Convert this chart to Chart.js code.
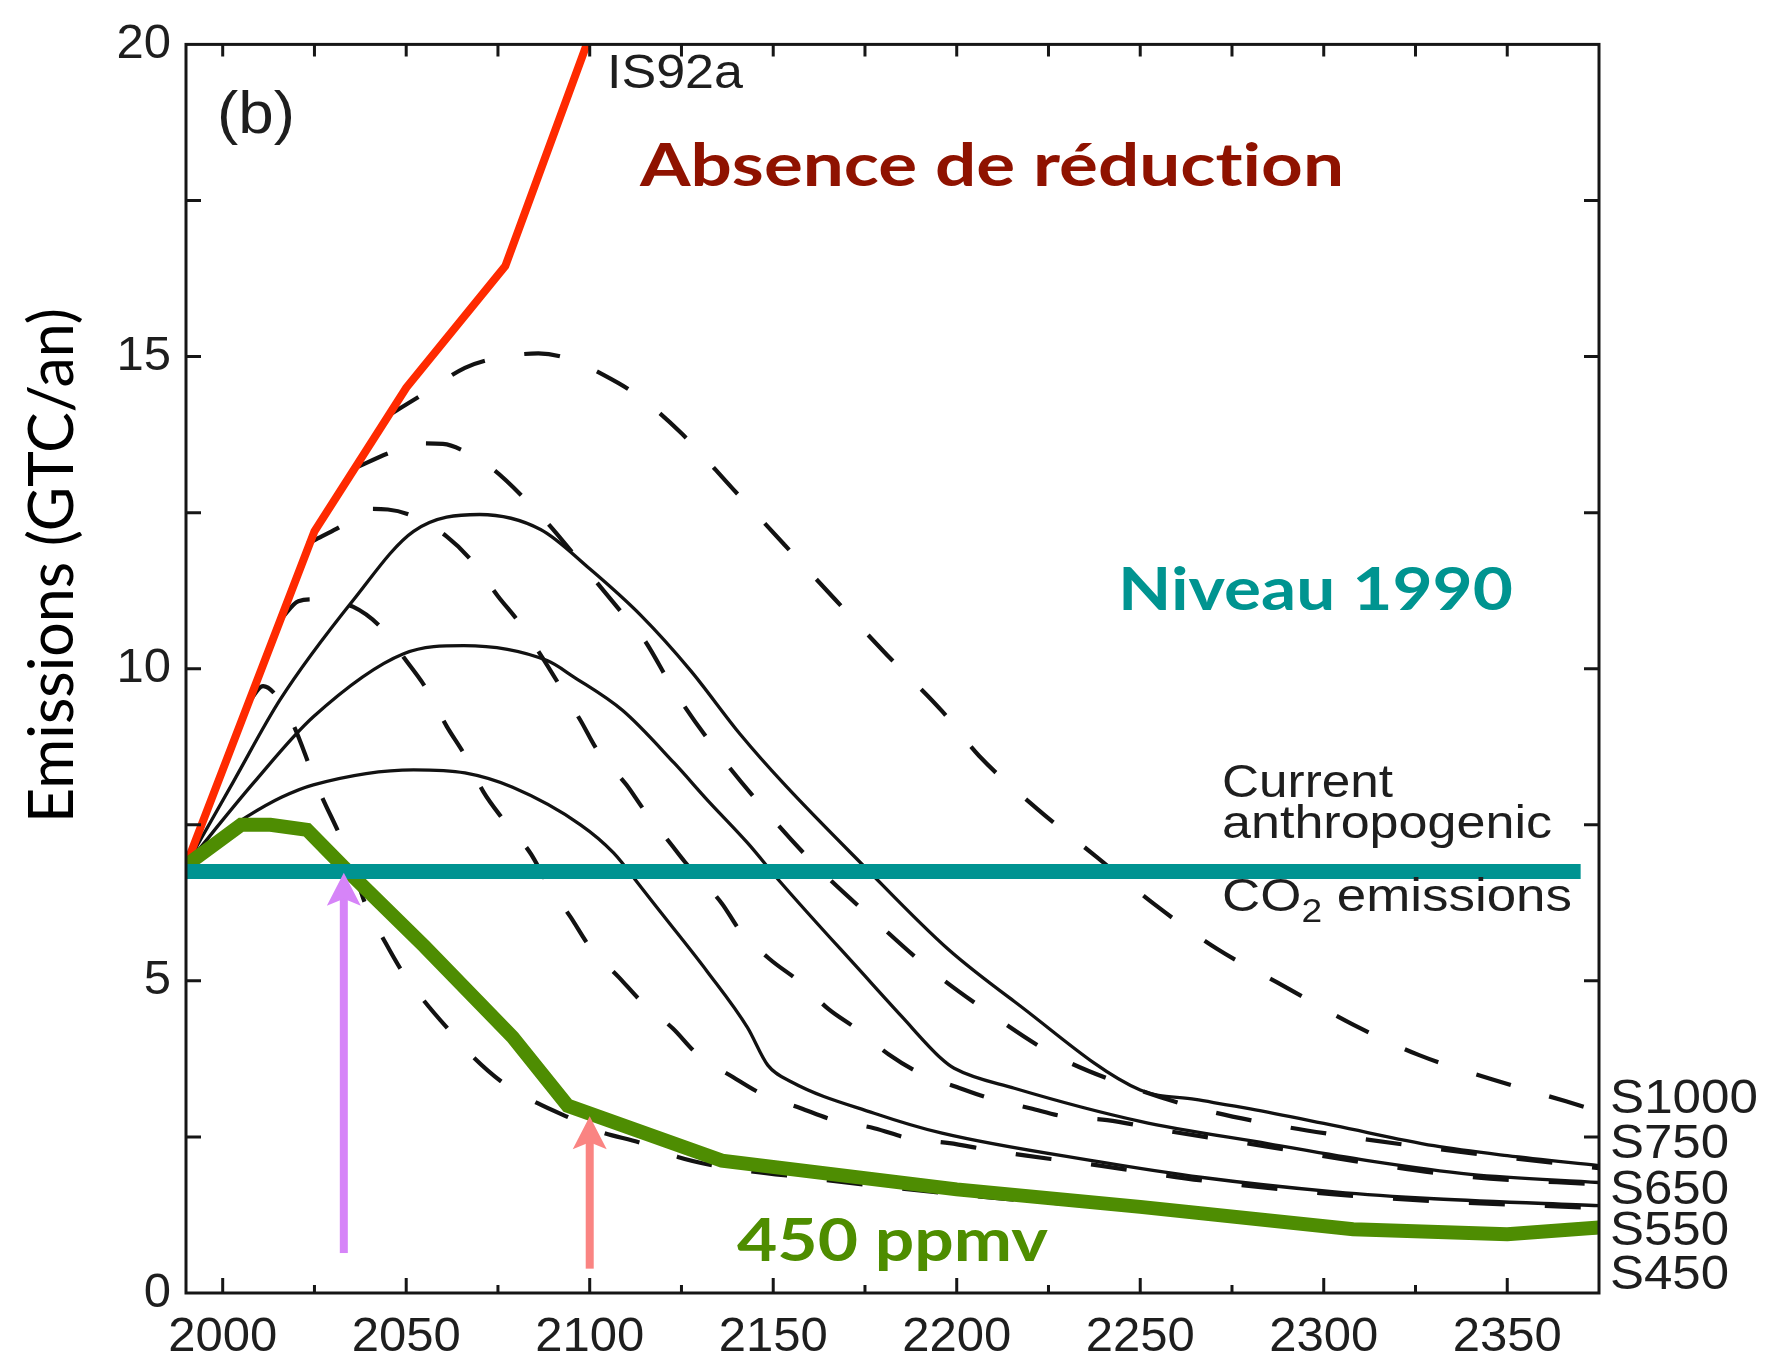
<!DOCTYPE html>
<html>
<head>
<meta charset="utf-8">
<script src="https://cdn.jsdelivr.net/npm/chart.js@4.4.1/dist/chart.umd.min.js"></script>
<style>
    html, body { margin: 0; padding: 0; background: #fff; }
    #wrap { width: 1768px; height: 1359px; }
</style>
</head>
<body>
<div id="wrap"><canvas id="emissionsChart" width="1768" height="1359"></canvas></div>
<script>
// Emissions de CO2 (GTC/an) - profils S / WRE, IS92a, niveau 1990

// ============================ axes ============================
const yearMin = 1990;
const yearMax = 2375;
const xTickLabels = [2000, 2050, 2100, 2150, 2200, 2250, 2300, 2350];
const yTickLabels = [0, 5, 10, 15, 20];
const profileLabels = ['S1000', 'S750', 'S650', 'S550', 'S450'];

// ============================ séries ============================
// IS92a (rouge)
const is92aYears = [1990, 2025, 2050, 2077, 2100];
const is92aValues = [6.85, 12.2, 14.5, 16.45, 20.13];

// niveau 1990 (turquoise)
const niveauYears = [1990, 2370];
const niveauValues = [6.75, 6.75];

// 450 ppmv (vert)
const ppmv450Years = [1990, 2005, 2013, 2023, 2033, 2055, 2079, 2094, 2136, 2200, 2250, 2308, 2350, 2375];
const ppmv450Values = [6.85, 7.5, 7.5, 7.42, 6.82, 5.55, 4.1, 3.0, 2.12, 1.66, 1.38, 1.02, 0.94, 1.05];

// courbes pleines
const s750Years = [1990, 2003, 2015.6, 2035.6, 2052, 2070, 2086.6, 2100, 2114, 2127.5, 2141, 2153, 2174, 2197.6, 2215.7, 2250, 2265, 2280, 2303, 2330, 2350, 2375];
const s750Values = [6.85, 8.2, 9.5, 11.1, 12.2, 12.47, 12.23, 11.6, 10.85, 9.97, 8.95, 8.15, 6.88, 5.51, 4.67, 3.25, 3.1, 2.95, 2.68, 2.36, 2.2, 2.04];

const s650Years = [1990, 2008.4, 2024.7, 2049.3, 2065.7, 2088.4, 2095.6, 2109, 2123, 2132, 2143, 2152, 2174.8, 2185, 2195.7, 2199.3, 2215.7, 2250, 2285, 2312, 2340, 2375];
const s650Values = [6.85, 8.17, 9.23, 10.24, 10.37, 10.13, 9.87, 9.33, 8.49, 7.9, 7.21, 6.58, 5.09, 4.43, 3.76, 3.6, 3.28, 2.75, 2.39, 2.12, 1.9, 1.77];

const s550Years = [1990, 2000.8, 2006.6, 2016, 2024.7, 2052, 2066, 2079, 2097.5, 2106.5, 2114, 2120, 2132, 2143, 2148.5, 2155, 2177.5, 2196, 2239, 2267, 2303, 2330, 2375];
const s550Values = [6.85, 7.4, 7.63, 7.94, 8.14, 8.38, 8.33, 8.1, 7.5, 7.05, 6.5, 6.05, 5.15, 4.25, 3.65, 3.38, 2.88, 2.56, 2.1, 1.85, 1.62, 1.51, 1.40];

// courbes en tirets
const wre1000Years = [2045, 2056, 2066, 2074, 2086, 2094, 2104, 2113, 2125, 2139, 2153, 2167, 2181, 2196, 2206, 2222, 2238, 2254, 2271, 2289, 2308, 2326, 2346, 2366, 2375];
const wre1000Values = [14.05, 14.45, 14.82, 14.97, 15.05, 14.97, 14.7, 14.38, 13.77, 12.88, 11.99, 11.1, 10.22, 9.32, 8.61, 7.75, 6.99, 6.22, 5.51, 4.92, 4.30, 3.81, 3.42, 3.07, 2.91];

const wre750Years = [2036, 2046, 2054, 2060, 2066, 2074, 2082, 2089, 2100, 2109, 2115, 2123, 2135, 2148, 2162, 2177, 2193, 2209, 2227, 2245, 2265, 2286, 2307, 2328, 2350, 2375];
const wre750Values = [13.21, 13.47, 13.61, 13.6, 13.48, 13.18, 12.74, 12.3, 11.52, 10.88, 10.45, 9.65, 8.65, 7.72, 6.82, 6.0, 5.17, 4.48, 3.8, 3.35, 2.97, 2.7, 2.5, 2.33, 2.17, 2.0];

const wre650Years = [2023, 2027, 2033, 2039, 2045, 2052, 2061, 2068, 2075, 2081, 2097.5, 2102, 2110, 2115, 2122, 2126, 2136, 2141, 2149, 2157.5, 2165, 2172.5, 2181.5, 2190, 2200, 2210, 2220, 2229, 2241, 2257, 2285, 2312, 2340, 2375];
const wre650Values = [12.0, 12.12, 12.31, 12.56, 12.55, 12.44, 12.12, 11.72, 11.16, 10.72, 9.17, 8.7, 8.14, 7.72, 7.2, 6.9, 6.24, 5.8, 5.35, 4.97, 4.55, 4.24, 3.82, 3.52, 3.3, 3.1, 2.96, 2.83, 2.77, 2.6, 2.34, 2.08, 1.86, 1.74];

const wre550Years = [2016, 2020.6, 2025, 2035.6, 2043.5, 2049.2, 2055.8, 2061, 2066, 2071, 2076.5, 2083.9, 2088.5, 2094.8, 2100.2, 2107.9, 2114.4, 2122.6, 2129.4, 2139, 2147.2, 2157.5, 2166.5, 2177.5, 2187.5, 2198, 2208, 2219, 2229, 2239, 2267, 2303, 2330, 2375];
const wre550Values = [10.8, 11.08, 11.11, 10.99, 10.64, 10.19, 9.65, 9.08, 8.61, 8.03, 7.58, 7.04, 6.56, 6.02, 5.53, 5.06, 4.65, 4.24, 3.82, 3.46, 3.18, 2.96, 2.77, 2.64, 2.47, 2.4, 2.3, 2.2, 2.12, 2.04, 1.8, 1.58, 1.47, 1.36];

const wre450Years = [2007, 2011, 2015.6, 2019.7, 2023.8, 2026.8, 2031.7, 2034.7, 2039.4, 2043.5, 2049, 2055, 2062.3, 2068.6, 2077, 2085.8, 2095.9, 2102, 2114.7, 2124, 2136, 2160, 2200, 2250, 2300, 2350, 2375];
const wre450Values = [9.45, 9.72, 9.49, 9.04, 8.42, 7.98, 7.36, 6.94, 6.15, 5.7, 5.14, 4.67, 4.17, 3.76, 3.34, 3.04, 2.77, 2.6, 2.39, 2.18, 2.02, 1.84, 1.58, 1.33, 1.07, 0.9, 0.98];

// flèches (année, bas, pointe)
const arrowYears = [2033, 2100];
const arrowFrom = [0.64, 0.39];
const arrowTo = [6.73, 2.83];
const arrowColors = ['#d684f8', '#fa8482'];

// ============================ helpers ============================
function toPoints(years, values) {
    return years.map((x, i) => ({ x: x, y: values[i] }));
}

function solidLine(label, years, values) {
    return {
        label: label,
        data: toPoints(years, values),
        borderColor: '#121212',
        borderWidth: 3.3,
        pointRadius: 0,
        fill: false,
        cubicInterpolationMode: 'monotone',
        order: 5
    };
}

function dashedLine(label, years, values) {
    const ds = solidLine(label, years, values);
    ds.borderWidth = 4.2;
    ds.borderDash = [36, 40];
    ds.order = 6;
    return ds;
}

// texte étiré pour coller à la largeur du document d'origine
function drawStretched(ctx, runs, x, baseline, width) {
    let total = 0;
    runs.forEach(r => {
        ctx.font = r.font;
        r.w = ctx.measureText(r.text).width;
        total += r.w;
    });
    ctx.save();
    ctx.translate(x, baseline);
    ctx.scale(width / total, 1);
    let cx = 0;
    runs.forEach(r => {
        ctx.font = r.font;
        ctx.fillText(r.text, cx, r.dy || 0);
        cx += r.w;
    });
    ctx.restore();
}

const helv = (size) => `${size}px "Liberation Sans", Arial, sans-serif`;
const gill = (size, weight) => `${weight} ${size}px Lato, "Open Sans", sans-serif`;

// ============================ plugin : cadre, graduations, textes ============================
const figurePlugin = {
    id: 'figure',
    afterDatasetsDraw(chart) {
        const { ctx, chartArea: a } = chart;
        const xs = chart.scales.x;
        const ys = chart.scales.y;
        ctx.save();

        // flèches
        arrowYears.forEach((yr, i) => {
            const px = xs.getPixelForValue(yr);
            const y0 = ys.getPixelForValue(arrowFrom[i]);
            const y1 = ys.getPixelForValue(arrowTo[i]);
            ctx.fillStyle = arrowColors[i];
            ctx.fillRect(px - 4, y1 + 24, 8, y0 - y1 - 24);
            ctx.beginPath();
            ctx.moveTo(px, y1);
            ctx.lineTo(px + 17, y1 + 33);
            ctx.lineTo(px, y1 + 26);
            ctx.lineTo(px - 17, y1 + 33);
            ctx.closePath();
            ctx.fill();
        });

        // cadre
        ctx.strokeStyle = '#161616';
        ctx.lineWidth = 3;
        ctx.strokeRect(a.left, a.top, a.right - a.left, a.bottom - a.top);

        // graduations vers l'intérieur
        ctx.beginPath();
        xs.ticks.forEach(t => {
            if (t.value <= xs.min || t.value >= xs.max) return;
            const px = xs.getPixelForValue(t.value);
            const len = t.value % 50 === 0 ? 15 : 8;
            ctx.moveTo(px, a.bottom);
            ctx.lineTo(px, a.bottom - len);
            ctx.moveTo(px, a.top);
            ctx.lineTo(px, a.top + 12);
        });
        ys.ticks.forEach(t => {
            if (t.value <= ys.min || t.value >= ys.max) return;
            const py = ys.getPixelForValue(t.value);
            ctx.moveTo(a.left, py);
            ctx.lineTo(a.left + 15, py);
            ctx.moveTo(a.right, py);
            ctx.lineTo(a.right - 15, py);
        });
        ctx.stroke();

        // textes du graphique d'origine
        ctx.textAlign = 'left';
        ctx.textBaseline = 'alphabetic';
        ctx.fillStyle = '#1e1e1e';
        drawStretched(ctx, [{ text: '(b)', font: helv(60) }], 217, 133, 78);
        drawStretched(ctx, [{ text: 'IS92a', font: helv(49) }], 607, 88, 136);
        drawStretched(ctx, [{ text: 'Current', font: helv(47) }], 1222, 797, 171);
        drawStretched(ctx, [{ text: 'anthropogenic', font: helv(47) }], 1222, 838, 330);
        drawStretched(ctx, [
            { text: 'CO', font: helv(47) },
            { text: '2', font: helv(33), dy: 11 },
            { text: ' emissions', font: helv(47) }
        ], 1222, 911, 350);

        const labelY = [1113, 1158, 1204, 1245, 1289];
        const labelW = [148, 119, 119, 119, 119];
        profileLabels.forEach((lab, i) => {
            drawStretched(ctx, [{ text: lab, font: helv(48) }], 1610, labelY[i], labelW[i]);
        });

        // annotations en couleur (ZWNJ pour éviter la ligature "ti")
        ctx.fillStyle = '#8f1200';
        drawStretched(ctx, [{ text: 'Absence de réduct\u200Cion', font: gill(60, 'bold') }], 640, 186, 704);
        ctx.fillStyle = '#009490';
        drawStretched(ctx, [{ text: 'Niveau 1990', font: gill(60, 'bold') }], 1118, 610, 395);
        ctx.fillStyle = '#4e8d00';
        drawStretched(ctx, [{ text: '450 ppmv', font: gill(60, 'bold') }], 737, 1261, 311);

        // titre de l'axe y
        ctx.fillStyle = '#000';
        ctx.save();
        ctx.translate(73, 823);
        ctx.rotate(-Math.PI / 2);
        drawStretched(ctx, [{ text: 'Emissions (GTC/an)', font: gill(61, 'normal') }], 0, 0, 515);
        ctx.restore();

        ctx.restore();
    }
};

// ============================ graphique ============================
const datasets = [
    {
        label: 'Niveau 1990',
        data: toPoints(niveauYears, niveauValues),
        borderColor: '#009391',
        borderWidth: 15,
        borderCapStyle: 'butt',
        pointRadius: 0,
        fill: false,
        order: 0
    },
    {
        label: '450 ppmv',
        data: toPoints(ppmv450Years, ppmv450Values),
        borderColor: '#4e8d02',
        borderWidth: 14,
        pointRadius: 0,
        fill: false,
        tension: 0,
        order: 1
    },
    {
        label: 'IS92a',
        data: toPoints(is92aYears, is92aValues),
        borderColor: '#ff2a00',
        borderWidth: 8,
        pointRadius: 0,
        fill: false,
        tension: 0,
        order: 2
    },
    solidLine('S750', s750Years, s750Values),
    solidLine('S650', s650Years, s650Values),
    solidLine('S550', s550Years, s550Values),
    dashedLine('WRE1000', wre1000Years, wre1000Values),
    dashedLine('WRE750', wre750Years, wre750Values),
    dashedLine('WRE650', wre650Years, wre650Values),
    dashedLine('WRE550', wre550Years, wre550Values),
    dashedLine('WRE450', wre450Years, wre450Values)
];

const tickFont = { family: '"Liberation Sans", Arial, sans-serif', size: 49 };

new Chart(document.getElementById('emissionsChart').getContext('2d'), {
    type: 'line',
    data: { datasets: datasets },
    options: {
        responsive: false,
        animation: false,
        devicePixelRatio: 1,
        events: [],
        layout: { padding: { top: 37, right: 169, bottom: 0, left: 0 } },
        plugins: {
            legend: { display: false },
            tooltip: { enabled: false }
        },
        scales: {
            x: {
                type: 'linear',
                min: yearMin,
                max: yearMax,
                grid: { display: false, drawTicks: false },
                border: { display: false },
                ticks: {
                    stepSize: 25,
                    includeBounds: false,
                    autoSkip: false,
                    maxRotation: 0,
                    minRotation: 0,
                    padding: 15,
                    color: '#1e1e1e',
                    font: tickFont,
                    callback: v => xTickLabels.includes(v) ? String(v) : ''
                },
                afterFit: s => { s.height = 66; }
            },
            y: {
                type: 'linear',
                min: 0,
                max: 20,
                grid: { display: false, drawTicks: false },
                border: { display: false },
                ticks: {
                    stepSize: 2.5,
                    autoSkip: false,
                    padding: 15,
                    color: '#1e1e1e',
                    font: tickFont,
                    callback: v => yTickLabels.includes(v) ? String(v) : ''
                },
                afterFit: s => { s.width = 186; }
            }
        }
    },
    plugins: [figurePlugin]
});
</script>
</body>
</html>
